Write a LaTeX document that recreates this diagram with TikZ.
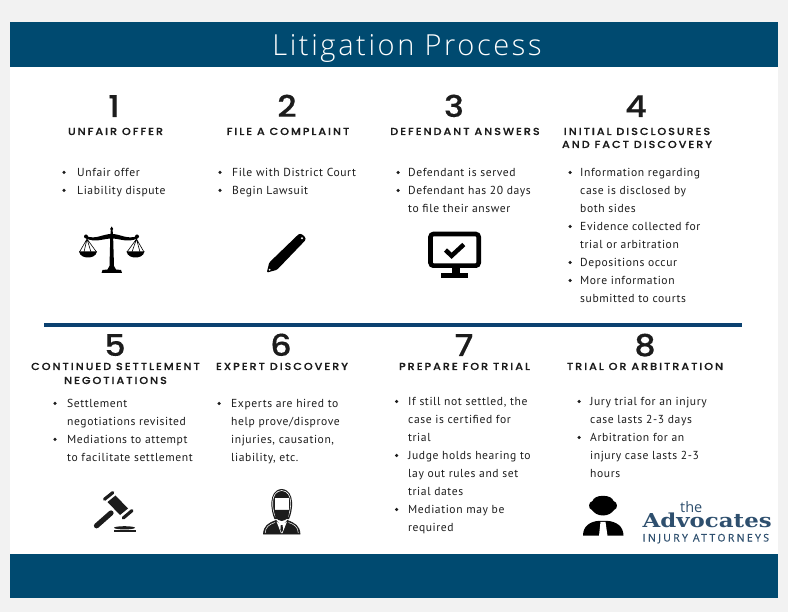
\documentclass[tikz,border=0pt]{standalone}
\usepackage{fontspec}
\setmainfont{Open Sans}
\newfontfamily\titlefont[LetterSpace=9]{Open Sans Light}
\newfontfamily\bodyfont[LetterSpace=5]{PT Sans}
\newfontfamily\headfont[LetterSpace=19,FakeStretch=1.1,FakeBold=0.35]{Poppins Medium}
\newfontfamily\numfont[FakeStretch=1.12,FakeBold=0.3]{Poppins Medium}
\newfontfamily\logofont{DejaVu Serif}
\newfontfamily\logosans[LetterSpace=22,FakeBold=0.6]{Open Sans}
\definecolor{navy}{HTML}{004A70}
\definecolor{rulecol}{HTML}{0B4170}
\definecolor{pagebg}{HTML}{F2F2F2}
\definecolor{ink}{HTML}{1C1C1C}
\definecolor{logocol}{HTML}{2E4F6E}
\tikzset{
  numlabel/.style={anchor=base,inner sep=0pt,text=ink,text height=21pt,text depth=0pt,font=\numfont\fontsize{30}{30}\selectfont},
  headlabel/.style={anchor=base,inner sep=0pt,text=ink,text height=7.5pt,text depth=0pt,font=\headfont\fontsize{10.2}{12}\selectfont},
  bodyline/.style={anchor=base west,inner sep=0pt,text=ink,font=\bodyfont\fontsize{11.6}{14}\selectfont},
}
\newcommand{\bu}[2]{\fill[ink] (#1,#2) circle (1.75);}
\newcommand{\li}[3]{\node[bodyline] at (#1,#2+1) {#3};}
\newcommand{\itm}[4]{\bu{#1}{#3-3.5}\li{#2}{#3}{#4}}
\begin{document}
\begin{tikzpicture}[x=1pt,y=-1pt]
\useasboundingbox (0,0) rectangle (788,612);
\fill[pagebg] (0,0) rectangle (788,612);
\fill[white] (10,67) rectangle (778,554);
\fill[navy] (10,22) rectangle (778,67);
\fill[navy] (10,554) rectangle (778,598);
\node[anchor=base,inner sep=0pt,text=white,font=\titlefont\fontsize{29}{30}\selectfont] (title) at (407,56) {Litigation Process};
\draw[rulecol,line width=3.4pt] (44,325) -- (742,325);

% Numbers
\node[numlabel] (n1) at (114,117) {1};
\node[numlabel] (n2) at (287,117) {2};
\node[numlabel] (n3) at (454,117) {3};
\node[numlabel] (n4) at (636,117) {4};
\node[numlabel] (n5) at (115,356) {5};
\node[numlabel] (n6) at (281,356) {6};
\node[numlabel] (n7) at (464,356) {7};
\node[numlabel] (n8) at (645,356) {8};

% Headings
\node[headlabel] (h1) at (115.5,135) {UNFAIR OFFER};
\node[headlabel] (h2) at (288,135) {FILE A COMPLAINT};
\node[headlabel] (h3) at (465,135) {DEFENDANT ANSWERS};
\node[headlabel] (h4a) at (637,135) {INITIAL DISCLOSURES};
\node[headlabel] (h4b) at (637,148) {AND FACT DISCOVERY};
\node[headlabel] (h5a) at (115.5,370) {CONTINUED SETTLEMENT};
\node[headlabel] (h5b) at (115.5,384) {NEGOTIATIONS};
\node[headlabel] (h6) at (282,370) {EXPERT DISCOVERY};
\node[headlabel] (h7) at (464.5,370) {PREPARE FOR TRIAL};
\node[headlabel] (h8) at (645,370) {TRIAL OR ARBITRATION};

% Column 1
\itm{64}{77}{176}{Unfair offer}
\itm{64}{77}{194}{Liability dispute}
% Column 2
\itm{220}{232}{176}{File with District Court}
\itm{220}{232}{194}{Begin Lawsuit}
% Column 3
\itm{398}{408}{176}{Defendant is served}
\itm{398}{408}{194}{Defendant has 20 days}
\li{408}{212}{to file their answer}
% Column 4
\itm{570}{580}{176}{Information regarding}
\li{580}{194}{case is disclosed by}
\li{580}{212}{both sides}
\itm{570}{580}{230}{Evidence collected for}
\li{580}{248}{trial or arbitration}
\itm{570}{580}{266}{Depositions occur}
\itm{570}{580}{284}{More information}
\li{580}{302}{submitted to courts}
% Column 5
\itm{55}{67}{407}{Settlement}
\li{67}{425}{negotiations revisited}
\itm{55}{67}{443}{Mediations to attempt}
\li{67}{461}{to facilitate settlement}
% Column 6
\itm{219}{231}{407}{Experts are hired to}
\li{231}{425}{help prove/disprove}
\li{231}{443}{injuries, causation,}
\li{231}{461}{liability, etc.}
% Column 7
\itm{396.5}{408}{405}{If still not settled, the}
\li{408}{423}{case is certified for}
\li{408}{441}{trial}
\itm{396.5}{408}{459}{Judge holds hearing to}
\li{408}{477}{lay out rules and set}
\li{408}{495}{trial dates}
\itm{396.5}{408}{513}{Mediation may be}
\li{408}{531}{required}
% Column 8
\itm{579}{590}{405}{Jury trial for an injury}
\li{590}{423}{case lasts 2-3 days}
\itm{579}{590}{441}{Arbitration for an}
\li{590}{459}{injury case lasts 2-3}
\li{590}{477}{hours}

% Scales icon
\fill[black] (110.3,236) -- (110.8,230) -- (110.2,229) -- (111.7,226.5) -- (113.2,229) -- (112.6,230) -- (113.1,236) -- (114,266) -- (116,269.5) -- (121,270) -- (122,273) -- (101.5,273) -- (102.5,270) -- (107.5,269.5) -- (109.5,266) -- cycle;
\fill[black] (86,236.5) circle (2) (137,236.5) circle (2) ;
\fill[black] (86,236) .. controls (96,240) and (102,234) .. (111.7,234) .. controls (121,234) and (127,240) .. (137.5,236) -- (137.5,238.5) .. controls (127,243) and (120,238.5) .. (111.7,238.5) .. controls (103,238.5) and (96,243) .. (86,238.5) -- cycle;
\draw[black,line width=.6pt] (79.5,252) -- (87,239) -- (96.5,252) (84,252) -- (87,239) -- (91,252);
\draw[black,line width=.6pt] (127,252) -- (136.5,239) -- (144,252) (132,252) -- (136.5,239) -- (140,252);
\fill[black] (79,251.5) -- (97,251.5) .. controls (96,256) and (92,257.5) .. (88,257.5) .. controls (84,257.5) and (80,256) .. (79,251.5) -- cycle;
\fill[black] (126.5,251.5) -- (144.5,251.5) .. controls (143.5,256) and (139.5,257.5) .. (135.5,257.5) .. controls (131.5,257.5) and (127.5,256) .. (126.5,251.5) -- cycle;

% Pencil icon
\fill[black,rounded corners=1.2pt] (266.8,272.6) -- (269.2,262.6) -- (298,234.8) .. controls (301,232.8) and (305.5,236.5) .. (305.6,240) -- (277,269.8) -- cycle;
\fill[white] (302,238.3) circle (1.1);
\fill[white] (269.6,269.7) circle (1);

% Monitor icon
\draw[black,line width=4.6pt,rounded corners=3pt] (430.5,234) rectangle (478.7,265.7);
\draw[black,line width=4.5pt] (445.5,250) -- (451.6,255.8) -- (463.8,244.5);
\fill[black] (451.7,268) rectangle (460,273.5);
\fill[black] (441,273.3) rectangle (467.7,278);

% Gavel icon
\draw[ink,line width=5.2pt,line cap=round] (111,513) -- (96.5,525.8);
\fill[ink] (107.5,502) -- (115.5,495.5) -- (128,508.5) -- (120,515) -- cycle;
\draw[ink,line width=3.2pt,line cap=round] (104.5,499.3) -- (112.8,492.6);
\draw[ink,line width=3.2pt,line cap=round] (123.3,518) -- (132,510.6);
\fill[ink] (124.5,527.8) ellipse (10.5 and 1.6);
\fill[ink] (113.5,530) rectangle (135.5,531.5);

% Lawyer icon
\fill[ink] (274.5,519) .. controls (271,512) and (267.5,490) .. (281.7,489) .. controls (296,490) and (292.5,512) .. (289,519) -- cycle;
\draw[white,line width=.6pt] (275.5,517) .. controls (272,510) and (269.5,491.5) .. (281.7,490.5) .. controls (294,491.5) and (291,510) .. (288,517);
\fill[white] (274.5,498.5) -- (289,498.5) -- (289,510) -- (274.5,510) -- cycle;
\fill[ink] (274.5,510) -- (289,510) -- (288.5,516) .. controls (286,520) and (284,521) .. (281.7,521) .. controls (279.5,521) and (277.5,520) .. (275,516) -- cycle;
\fill[ink,draw=ink,line width=.8pt] (263.5,534) .. controls (264,526) and (268,523.5) .. (276,520.5) -- (281.7,527) -- (287.5,520.5) .. controls (295,523.5) and (299.5,526) .. (300,534) -- cycle;
\draw[white,line width=.5pt] (265.2,533) .. controls (265.5,527) and (269,524.5) .. (275,522.5);
\draw[white,line width=.5pt] (298.3,533) .. controls (298,527) and (294.5,524.5) .. (288.5,522.5);
\fill[white] (276.5,521.5) -- (281.7,524.8) -- (287,521.5) -- (282.5,533) -- (281,533) -- cycle;
\fill[ink] (280.8,525) -- (282.6,525) -- (283,530) -- (281.7,532.5) -- (280.4,530) -- cycle;

% Judge icon
\fill[black] (603,495.8) .. controls (609,495.8) and (612.5,498) .. (613.5,501) .. controls (618,502) and (618,509) .. (614,510) .. controls (612,513) and (608,515.5) .. (603,515.5) .. controls (598,515.5) and (594,513) .. (592,510) .. controls (588,509) and (588,502) .. (592.5,501) .. controls (593.5,498) and (597,495.8) .. (603,495.8) -- cycle;
\fill[black] (583,535.7) .. controls (583,526) and (590,521.5) .. (599,520.8) -- (607,520.8) .. controls (616,521.5) and (623.5,526) .. (623.5,535.7) -- cycle;
\fill[white] (600.5,521.8) -- (605.5,521.8) -- (607.5,535.8) -- (599,535.8) -- cycle;

% Logo
\node[anchor=base west,inner sep=0pt,text=logocol,text depth=0pt,font=\fontsize{14.5}{15}\selectfont] (the) at (680,512.5) {the};
\node[anchor=base west,inner sep=0pt,text=logocol] (adv) at (642.5,527.5) {\resizebox{129pt}{14.6pt}{\logofont\bfseries Advocates}};
\node[anchor=base west,inner sep=0pt,text=logocol,font=\logosans\fontsize{10.5}{12}\selectfont] (inj) at (642.5,541.5) {INJURY ATTORNEYS};
\end{tikzpicture}
\end{document}
